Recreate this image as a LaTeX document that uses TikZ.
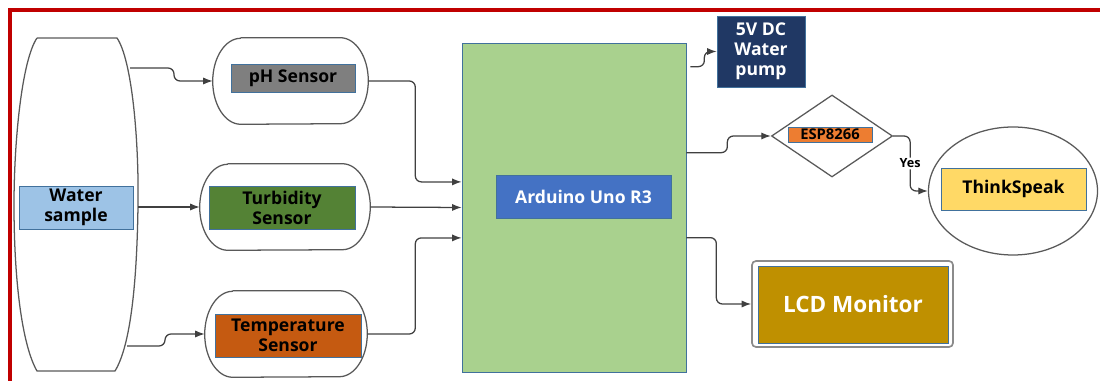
\documentclass[tikz,border=0pt]{standalone}
\usepackage{fontspec}
\setmainfont{Open Sans}
\usetikzlibrary{arrows.meta,shapes.geometric}

\definecolor{frameRed}{HTML}{C00000}
\definecolor{lineGray}{HTML}{595959}
\definecolor{linkGray}{HTML}{404040}
\definecolor{boxBorder}{HTML}{41719C}
\definecolor{waterBlue}{HTML}{9DC3E6}
\definecolor{phGray}{HTML}{7F7F7F}
\definecolor{turbGreen}{HTML}{548235}
\definecolor{tempOrange}{HTML}{C55A11}
\definecolor{ardGreen}{HTML}{A9D18E}
\definecolor{ardBlue}{HTML}{4472C4}
\definecolor{pumpNavy}{HTML}{203864}
\definecolor{espOrange}{HTML}{ED7D31}
\definecolor{thinkYellow}{HTML}{FFD966}
\definecolor{lcdGold}{HTML}{BF9000}

\newcommand{\lblfont}{\fontsize{12.5}{14.2}\selectfont\bfseries}

\begin{document}
\begin{tikzpicture}[x=0.25mm,y=-0.25mm,
  lbl/.style={draw=boxBorder,line width=0.5pt,inner sep=0pt,align=center,
    font=\lblfont},
  holder/.style={inner sep=0pt,minimum width=#1,minimum height=21.5mm},
  outline/.style={draw=lineGray,line width=0.9pt},
  link/.style={draw=linkGray,line width=0.9pt,rounded corners=1.5mm,
    -{Latex[length=2.4mm,width=1.8mm]}}]
\useasboundingbox (0,0) rectangle (1100,381);

%cadre
\draw[frameRed,line width=0.8mm] (1110,10) -- (10,10) -- (10,395);

%bac d'eau
\draw[outline] (37,38) -- (117,38) .. controls (132,60) and (139,140) .. (138,205)
  .. controls (137,280) and (131,345) .. (115,371) -- (37,371)
  .. controls (22,345) and (14,280) .. (14,205) .. controls (14,140) and (22,60) .. (37,38);
\coordinate (t1) at (130,68);
\coordinate (t2) at (138,207);
\coordinate (t3) at (127,346);
\node[lbl,fill=waterBlue,minimum width=28.5mm,minimum height=10.75mm] (water) at (76,207.5) {Water\\sample};

%capteurs
\node[holder=38.75mm] (ph) at (290.5,81) {};
\node[holder=42.5mm] (turb) at (285,207) {};
\node[holder=40.5mm] (temp) at (286,334) {};
\foreach \n in {ph,turb,temp}
  \draw[outline] ([xshift=7mm]\n.north west) -- ([xshift=-7mm]\n.north east)
    arc[start angle=90,end angle=-90,x radius=7mm,y radius=10.75mm]
    -- ([xshift=7mm]\n.south west)
    arc[start angle=270,end angle=90,x radius=7mm,y radius=10.75mm];
\node[lbl,fill=phGray,minimum width=31mm,minimum height=7mm] (phlbl) at (293,78) {pH Sensor};
\node[lbl,fill=turbGreen,minimum width=36.5mm,minimum height=10.75mm] (turblbl) at (282,207.5) {Turbidity\\Sensor};
\node[lbl,fill=tempOrange,minimum width=36.5mm,minimum height=10.75mm] (templbl) at (288,335.5) {Temperature\\Sensor};

%arduino
\node[draw=boxBorder,line width=0.5pt,fill=ardGreen,minimum width=56mm,minimum height=82.25mm] (ard) at (574,207.5) {};
\node[lbl,fill=ardBlue,text=white,minimum width=43.75mm,minimum height=10.75mm] (ardlbl) at (583.5,196.5) {Arduino Uno R3};

%sorties
\node[lbl,fill=pumpNavy,text=white,minimum width=22mm,minimum height=17.75mm] (pump) at (761,51.5) {5V DC\\Water\\pump};
\node[diamond,outline,inner sep=0pt,minimum width=30.25mm,minimum height=20.5mm] (esp) at (832,136) {};
\node[lbl,fill=espOrange,minimum width=21mm,minimum height=3.75mm,font=\fontsize{10.5}{12}\selectfont\bfseries] (esplbl) at (830,134.5) {ESP8266};
\node[ellipse,outline,minimum width=42.25mm,minimum height=32mm] (cloud) at (1013,191) {};
\node[lbl,fill=thinkYellow,minimum width=36.25mm,minimum height=10.5mm] (think) at (1013.5,189) {ThinkSpeak};
\node[draw=lineGray!70,line width=1.2pt,rounded corners=1mm,minimum width=50.25mm,minimum height=21.5mm] (lcd) at (852.5,304) {};
\node[lbl,fill=lcdGold,text=white,minimum width=47.5mm,minimum height=19.25mm,font=\fontsize{16}{18}\selectfont\bfseries] (lcdlbl) at (853,304.5) {LCD Monitor};

%liaisons
\draw[link] (t1) -- ++(44,0) |- (ph.west);
\draw[link] (t2) -- (turb.west);
\draw[link] (t3) -- ++(38,0) |- (temp.west);
\draw[link] (ph.east) -- ++(47,0) |- ([yshift=6.4mm]ard.west);
\draw[link] (turb.east) -- (ard.west);
\draw[link] (temp.east) -- ++(48,0) |- ([yshift=-7.6mm]ard.west);
\draw[link] ([xshift=1mm,yshift=-6mm]ard.north east) -- ++(14,0) |- (pump.west);
\draw[link] ([yshift=-27.5mm]ard.north east) -- ++(41,0) |- (esp.west);
\draw[link] (esp.east) -- ++(17,0) |- node[pos=0.25,fill=white,inner sep=1pt,font=\fontsize{9}{10}\selectfont\bfseries] {Yes} (cloud.west);
\draw[link] ([yshift=-48.75mm]ard.north east) -- ++(30,0) |- (lcd.west);

\end{tikzpicture}
\end{document}
